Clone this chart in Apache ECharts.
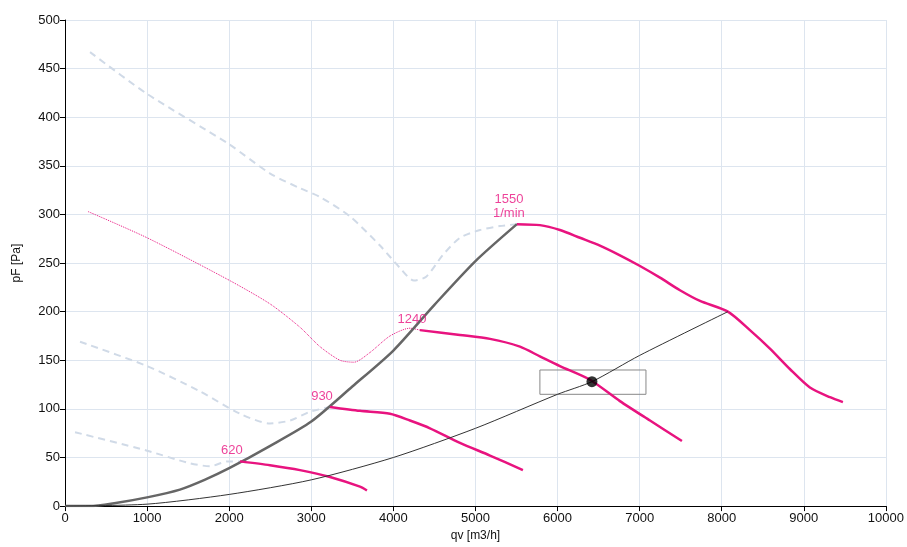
<!DOCTYPE html>
<html><head><meta charset="utf-8">
<script src="https://cdn.jsdelivr.net/npm/echarts@6/dist/echarts.min.js"></script>
<style>html,body{margin:0;padding:0;background:#fff}#c{width:907px;height:547px}</style>
</head><body><div id="c"></div>
<script>
// Data (qv [m3/h], pF [Pa])
const stall1550 = [[305,467],[1000,424],[1985,373],[2500,342],[2862,327],[3106,318],[3471,298],[3837,268],[4080,245],[4250,232],[4400,236],[4600,258],[4811,276],[5055,284],[5298,288],[5505,290]];
const curve1550 = [[5505,290],[5785,289],[6029,284],[6273,276],[6516,268],[6760,258],[7004,247],[7248,235],[7491,222],[7735,211],[8075,200],[8343,181],[8587,162],[8830,141],[9074,122],[9318,112],[9476,107]];
const stall1240 = [[280,303],[1000,276],[1985,233],[2497,208],[2862,184],[3106,164],[3350,150],[3520,148],[3715,158],[3959,175],[4202,183],[4324,181]];
const curve1240 = [[4324,181],[4811,176],[5177,172],[5542,164],[5785,154],[6029,144],[6395,130],[6760,108],[7126,88],[7515,67]];
const stall930 = [[183,169],[1000,144],[1644,118],[2131,95],[2497,85],[2741,88],[2984,97],[3228,102]];
const curve930 = [[3228,102],[3593,98],[3959,95],[4202,88],[4446,80],[4811,65],[5177,52],[5578,37]];
const stall620 = [[122,76],[1000,57],[1523,44],[1766,41],[1985,46],[2131,46]];
const curve620 = [[2131,46],[2497,42],[2862,37],[3228,30],[3593,20],[3678,16]];
const maxLine = [[0,0],[300,0],[600,3],[1000,9],[1400,17],[1700,27],[2000,39],[2500,62],[3000,87],[3500,123],[4000,160],[4500,207],[5000,252],[5505,290]];
const systemLine = [[0,0],[1000,2],[2000,12],[3000,27],[4000,50],[5000,80],[6000,115],[6419,128],[7000,155],[8075,200]];
const opPoint = [[6419,128]];
const tolBox = [[5785,140],[7077,140],[7077,115],[5785,115],[5785,140]];
const speedLabels = [
  {value:[5505,290], text:'1550\n1/min'},
  {value:[4324,181], text:'1240'},
  {value:[3228,102], text:'930'},
  {value:[2131,46], text:'620'}
];
const xTicks = {min:0, max:10000, interval:1000};
const yTicks = {min:0, max:500, interval:50};

const pink = '#e8137f', pale = '#d0dae7';
const font = 'Liberation Sans';
const chart = echarts.init(document.getElementById('c'));
function line(data, color, width, type, z){
  return {type:'line', data, smooth:0.25, symbol:'none', silent:true, z:z||2,
    lineStyle:{color, width, type:type||'solid'}};
}
chart.setOption({
  animation:false,
  grid:{left:65, right:21, top:20, bottom:36, containLabel:false},
  xAxis:{type:'value', ...xTicks, name:'qv [m3/h]', nameLocation:'middle', nameGap:21,
    nameTextStyle:{color:'#111', fontSize:12, fontFamily:font},
    axisLine:{lineStyle:{color:'#000'}}, axisTick:{show:true, length:5, lineStyle:{color:'#000'}},
    axisLabel:{color:'#111', fontSize:13, fontFamily:font, margin:6, formatter:v=>String(v)},
    splitLine:{lineStyle:{color:'#dde5ef'}}},
  yAxis:{type:'value', ...yTicks, name:'pF [Pa]', nameLocation:'middle', nameGap:42, nameRotate:90,
    nameTextStyle:{color:'#111', fontSize:12, fontFamily:font},
    axisLine:{show:true, lineStyle:{color:'#000'}}, axisTick:{show:true, length:5, lineStyle:{color:'#000'}},
    axisLabel:{color:'#111', fontSize:13, fontFamily:font, margin:5, formatter:v=>String(v)},
    splitLine:{lineStyle:{color:'#dde5ef'}}},
  series:[
    line(stall1550, pale, 2, [7,5]),
    line(stall930, pale, 2, [7,5]),
    line(stall620, pale, 2, [7,5]),
    line(stall1240, pink, 1, [1,1]),
    line(curve1550, pink, 2.5, 'solid', 4),
    line(curve1240, pink, 2.5, 'solid', 4),
    line(curve930, pink, 2.5, 'solid', 4),
    line(curve620, pink, 2.5, 'solid', 4),
    line(maxLine, '#666', 2.5, 'solid', 3),
    line(systemLine, '#333', 1, 'solid', 5),
    {type:'line', data:tolBox, symbol:'none', silent:true, z:3, lineStyle:{color:'#888', width:1}},
    {type:'scatter', data:opPoint, symbolSize:11, itemStyle:{color:'#000'}, z:6},
    {type:'scatter', data:speedLabels.map(d=>({value:d.value, label:{formatter:d.text}})),
      symbolSize:0, z:6,
      label:{show:true, position:'top', distance:4, color:pink, fontSize:13, fontFamily:font, lineHeight:14, offset:[-8,0]}}
  ]
});
</script></body></html>
